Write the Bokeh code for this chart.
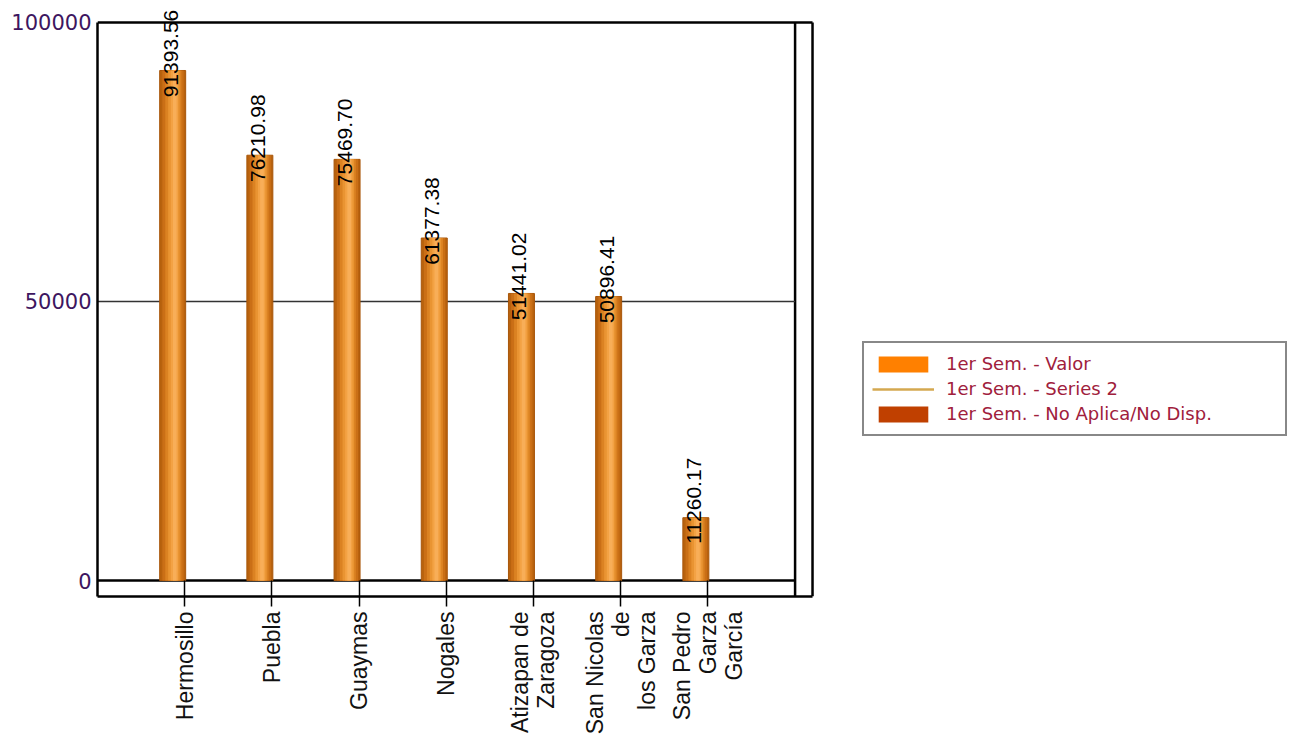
import math
import numpy as np
from bokeh.plotting import figure
from bokeh.models import (Range1d, FixedTicker, NumeralTickFormatter, LabelSet,
                          ColumnDataSource, Legend, LegendItem)
from bokeh.core.properties import value
from bokeh.embed import file_html
from bokeh.resources import INLINE

# ---------------- data ----------------
categories = ["Hermosillo", "Puebla", "Guaymas", "Nogales",
              "Atizapan de\nZaragoza", "San Nicolas\nde\nlos Garza",
              "San Pedro\nGarza\nGarcía"]
values = [91393.56, 76210.98, 75469.70, 61377.38, 51441.02, 50896.41, 11260.17]
value_labels = ["91393.56", "76210.98", "75469.70", "61377.38",
                "51441.02", "50896.41", "11260.17"]
series_names = ["1er Sem. - Valor", "1er Sem. - Series 2", "1er Sem. - No Aplica/No Disp."]
series_colors = ["#FF8000", "#D4A850", "#C04000"]
y_ticks = [0, 50000, 100000]

# ---------------- layout constants ----------------
n = len(categories)
pos = np.arange(1, n + 1)          # category tick positions
bar_off = -0.138                   # bar offset inside the category group
bar_w = 0.298
x_inner = n + 1                    # back wall of the pseudo-3D frame
x_outer = n + 1.2                  # front wall
x_max = 13.693                     # frame also hosts the legend area
y_low = -2862
y_max = 103041
y_top = max(y_ticks)

p = figure(width=1291, height=737,
           x_range=Range1d(0, x_max), y_range=Range1d(y_low, y_max),
           output_backend="svg", toolbar_location=None,
           min_border_left=97, min_border_top=5, min_border_right=0,
           min_border_bottom=140)
p.background_fill_color = "white"
p.border_fill_color = "white"
p.outline_line_color = None
p.xgrid.visible = False
p.ygrid.visible = False

# ---------------- axes ----------------
xa = p.xaxis[0]
xa.ticker = FixedTicker(ticks=list(pos))
xa.major_label_overrides = {int(k): c for k, c in zip(pos, categories)}
xa.major_label_orientation = math.pi / 2
xa.bounds = (0, x_outer)
xa.major_tick_in = 16
xa.major_tick_out = 10
xa.major_tick_line_width = 1.5
xa.major_tick_line_color = "black"
xa.minor_tick_line_color = None
xa.axis_line_width = 2.5
xa.axis_line_color = "black"
xa.major_label_standoff = 5
xa.major_label_text_font = "Liberation Sans"
xa.major_label_text_font_size = "23px"
xa.major_label_text_line_height = 1.0
xa.major_label_text_color = "#111111"

ya = p.yaxis[0]
ya.ticker = FixedTicker(ticks=y_ticks)
ya.formatter = NumeralTickFormatter(format="0")
ya.bounds = (y_low, y_top)
ya.major_tick_in = 0
ya.major_tick_out = 0
ya.minor_tick_line_color = None
ya.axis_line_width = 2.5
ya.axis_line_color = "black"
ya.major_label_standoff = 6
ya.major_label_text_font = "DejaVu Sans"
ya.major_label_text_font_size = "21px"
ya.major_label_text_color = "#3d1660"

# ---------------- frame decoration (pseudo 3D box) ----------------
p.segment(x0=[0, x_inner, x_outer, 0], y0=[y_top, y_low, y_low, 0],
          x1=[x_outer, x_inner, x_outer, x_inner], y1=[y_top, y_top, y_top, 0],
          line_color="black", line_width=2.5)
mid_ticks = [t for t in y_ticks if 0 < t < y_top]
p.segment(x0=[0] * len(mid_ticks), y0=mid_ticks, x1=[x_inner] * len(mid_ticks),
          y1=mid_ticks, line_color="#333333", line_width=1.5)

# ---------------- bars (cylinder shading with layered bars) ----------------
src = ColumnDataSource(dict(x=pos + bar_off, top=values, label=value_labels))
layers = [  # (extra offset, relative width, colour)
    (0.000, 1.00, "#B8620E"),
    (0.004, 0.82, "#CA6F16"),
    (0.008, 0.62, "#DB8222"),
    (0.014, 0.44, "#E99432"),
    (0.020, 0.28, "#F3A244"),
    (0.024, 0.14, "#F8AE58"),
]
for i, (dx, rw, col) in enumerate(layers):
    xs = [x + dx for x in src.data["x"]]
    p.vbar(x=xs, top=values, bottom=0, width=bar_w * rw, fill_color=col,
           line_color="#A8560A" if i == 0 else None, line_width=1)

# value labels
labels = LabelSet(x="x", y="top", text="label", source=src, angle=math.pi / 2,
                  text_align="center", text_baseline="middle", y_offset=17, x_offset=-2,
                  text_font=value("Liberation Sans"), text_font_size=value("21px"),
                  text_color="black")
p.add_layout(labels)

# ---------------- legend (series without drawn values: zero-height markers) ----------------
x0 = [pos[0] + bar_off]
r_valor = p.vbar(x=x0, top=[0], bottom=0, width=0.01, fill_color=series_colors[0],
                 line_color=None)
r_s2 = p.line(x=x0, y=[0], line_color=series_colors[1], line_width=2.5)
r_na = p.vbar(x=x0, top=[0], bottom=0, width=0.01, fill_color=series_colors[2],
              line_color=None)
legend = Legend(items=[LegendItem(label=series_names[0], renderers=[r_valor]),
                       LegendItem(label=series_names[1], renderers=[r_s2]),
                       LegendItem(label=series_names[2], renderers=[r_na])],
                location=(765, 160), orientation="vertical",
                border_line_color="#111111", border_line_width=2,
                background_fill_color="white", background_fill_alpha=1,
                label_text_font="DejaVu Sans", label_text_font_size="18px",
                label_text_color="#A0203C", label_width=331, label_height=25,
                glyph_width=62, glyph_height=20, label_standoff=12,
                padding=8, spacing=0, margin=0)
p.add_layout(legend, "center")

open("out.html", "w").write(file_html(p, INLINE))
